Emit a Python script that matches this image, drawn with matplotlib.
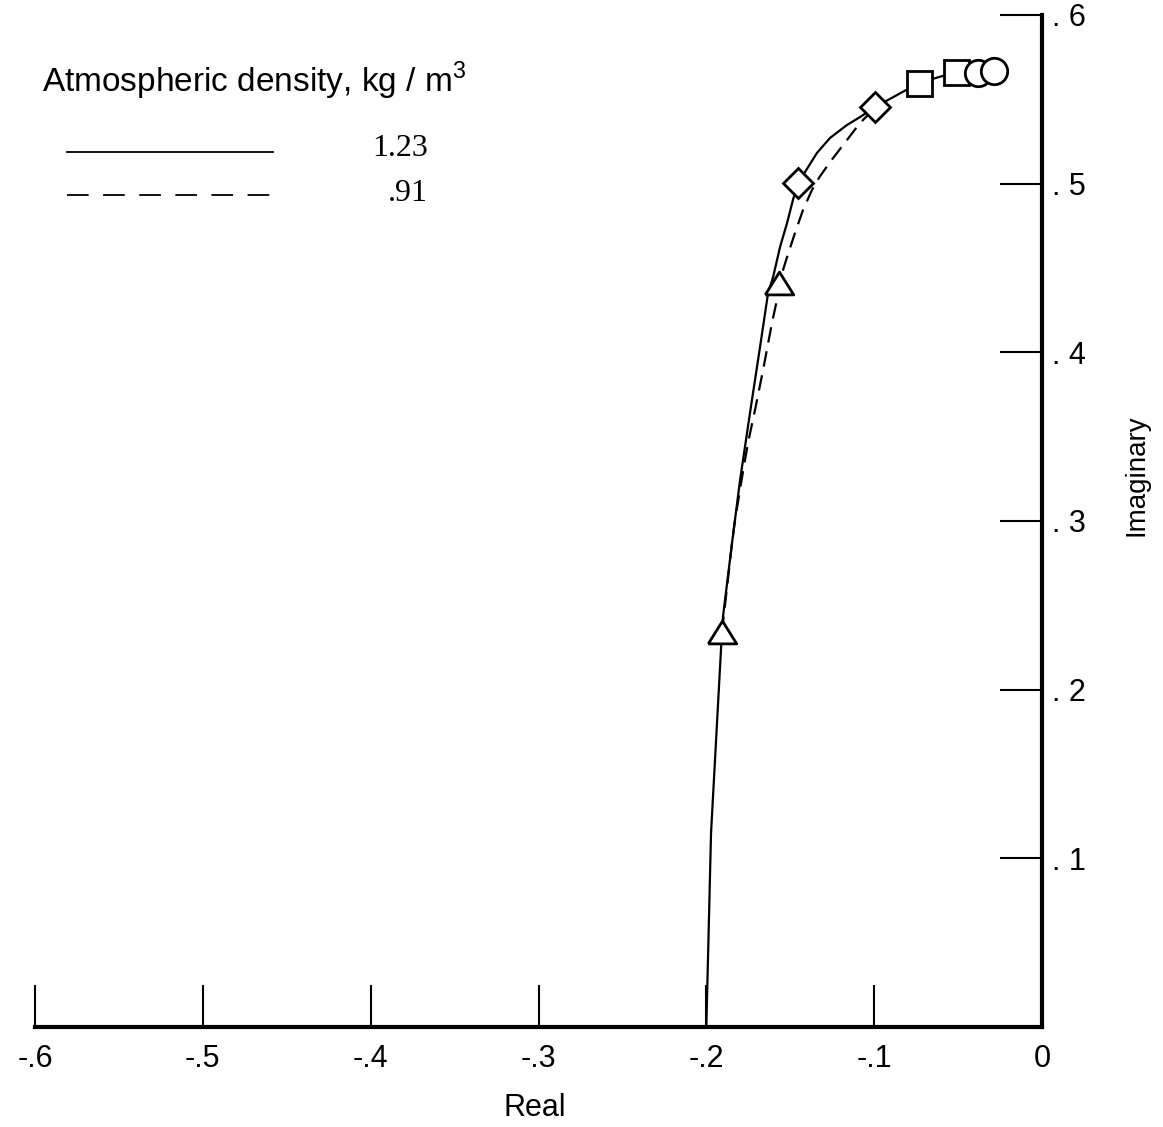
import numpy as np
import matplotlib.pyplot as plt

# root locus, real / imaginary parts
solid_re = [-0.2000, -0.1972, -0.1907, -0.1901, -0.1847, -0.1799, -0.1740,
            -0.1680, -0.1632, -0.1602, -0.1561, -0.1519, -0.1484, -0.1454,
            -0.1412, -0.1341, -0.1263, -0.1162, -0.1084, -0.0995, -0.0733,
            -0.0512, -0.0381, -0.0286]
solid_im = [0.0000, 0.1150, 0.2342, 0.2431, 0.2869, 0.3243, 0.3640,
            0.4032, 0.4352, 0.4447, 0.4624, 0.4767, 0.4903, 0.5004,
            0.5069, 0.5182, 0.5271, 0.5348, 0.5395, 0.5454, 0.5597,
            0.5662, 0.5656, 0.5668]

dash_re = [-0.1907, -0.1847, -0.1829, -0.1787, -0.1752, -0.1710, -0.1662,
           -0.1609, -0.1573, -0.1543, -0.1519, -0.1472, -0.1424, -0.1371,
           -0.1326, -0.1263, -0.1162, -0.1084, -0.1037, -0.0995]
dash_im = [0.2342, 0.2869, 0.3006, 0.3261, 0.3462, 0.3658, 0.3895,
           0.4174, 0.4340, 0.4488, 0.4565, 0.4707, 0.4844, 0.4962,
           0.5039, 0.5128, 0.5259, 0.5360, 0.5407, 0.5454]

tri_re = [-0.1907, -0.1567]
tri_im = [0.2342, 0.4411]
dia_re = [-0.1454, -0.0995]
dia_im = [0.5004, 0.5454]
sq_re = [-0.0733, -0.0512]
sq_im = [0.5597, 0.5662]
circ_re = [-0.0381, -0.0286]
circ_im = [0.5656, 0.5668]

xticks = [-0.6, -0.5, -0.4, -0.3, -0.2, -0.1, 0.0]
xtick_labels = ['-.6', '-.5', '-.4', '-.3', '-.2', '-.1', '0']
yticks = [0.1, 0.2, 0.3, 0.4, 0.5, 0.6]
ytick_labels = ['. 1', '. 2', '. 3', '. 4', '. 5', '. 6']

legend_title = 'Atmospheric density, kg / m$^3$'
legend_labels = ['1.23', '.91']

plt.rcParams['font.family'] = ['Liberation Sans', 'DejaVu Sans']
plt.rcParams['mathtext.fontset'] = 'custom'
plt.rcParams['mathtext.rm'] = 'Liberation Sans'

fig = plt.figure(figsize=(11.63, 11.27), dpi=100)
ax = fig.add_axes([35 / 1163, 1 - 1027 / 1127, 1007 / 1163, 1012 / 1127])

ax.plot(solid_re, solid_im, color='black', lw=1.6, zorder=2)
ax.plot(dash_re, dash_im, color='black', lw=1.6, dashes=(7, 4), zorder=2)

mk = dict(linestyle='none', mfc='white', mec='black', mew=2.0, zorder=3, clip_on=False)
tri = [(-1, -0.8), (1, -0.8), (0, 0.8), (-1, -0.8)]
ax.plot(tri_re, tri_im, marker=tri, ms=20.5, **mk)
ax.plot(dia_re, dia_im, marker='D', ms=15, **mk)
ax.plot(sq_re, sq_im, marker='s', ms=18, **mk)
ax.plot(circ_re, circ_im, marker='o', ms=19, **mk)

ax.set_xlim(-0.6, 0)
ax.set_ylim(0, 0.6)
ax.spines['left'].set_visible(False)
ax.spines['top'].set_visible(False)
ax.spines['bottom'].set_linewidth(3)
ax.spines['right'].set_linewidth(3)

ax.set_xticks(xticks)
ax.set_xticklabels(xtick_labels)
ax.set_yticks(yticks)
ax.set_yticklabels(ytick_labels)
ax.yaxis.tick_right()
ax.tick_params(axis='both', direction='in', length=30, width=1.5, labelsize=22)
ax.tick_params(axis='x', pad=12)
ax.tick_params(axis='y', pad=7)

fig.text(535 / 1163, 1 - 1108 / 1127, 'Real', ha='center', va='center', fontsize=22)
fig.text(1137 / 1163, 1 - 475 / 1127, 'Imaginary', ha='center', va='center',
         rotation=90, fontsize=20)

# legend, drawn by hand
fig.text(42 / 1163, 1 - 92 / 1127, legend_title, ha='left', va='baseline', fontsize=24)
for i, (lab, ls) in enumerate(zip(legend_labels, ['-', '--'])):
    y = 1 - (152 + 43 * i) / 1127
    line = plt.Line2D([67 / 1163, 273 / 1163], [y, y], color='black', lw=1.3,
                      transform=fig.transFigure)
    if ls == '--':
        line.set_dashes((12, 8))
    fig.add_artist(line)
    fig.text(428 / 1163, 1 - (156 + 45 * i) / 1127, lab, ha='right', va='baseline',
             fontsize=23, family=['Liberation Serif', 'DejaVu Serif'])

fig.savefig('out.png', dpi=100)
